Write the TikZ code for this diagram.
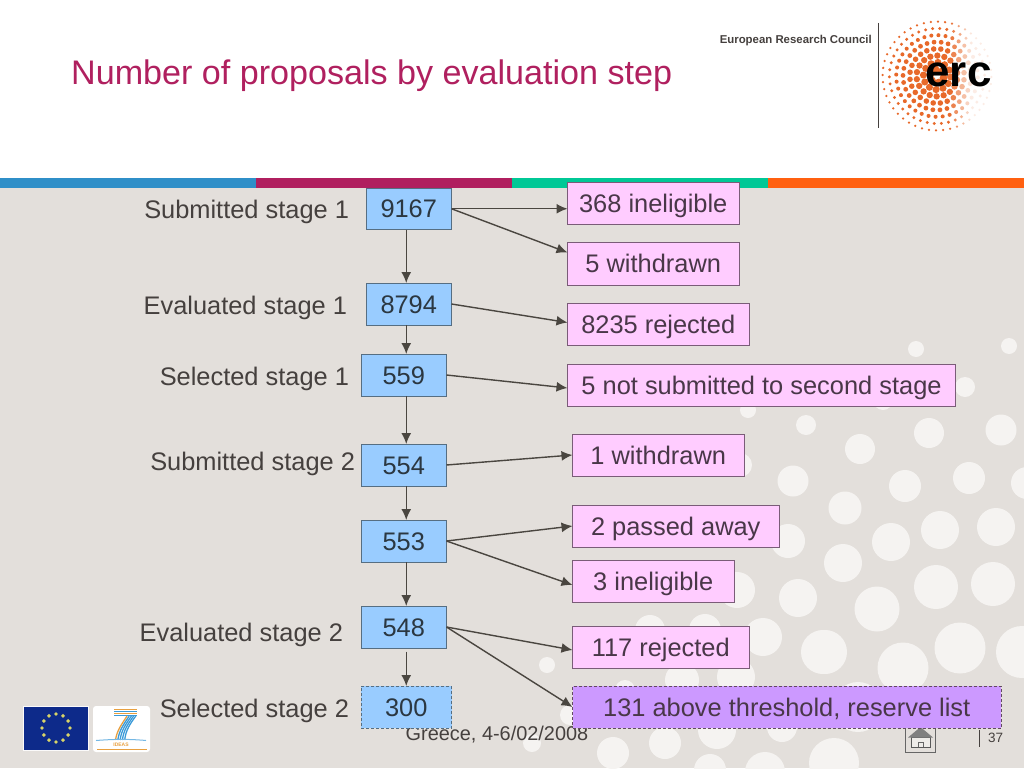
\documentclass[tikz,border=0pt]{standalone}
\usepackage{fontspec}
\setmainfont{Liberation Sans}
\usetikzlibrary{arrows.meta}
\definecolor{bgc}{HTML}{E3DFDB}
\definecolor{dotc}{HTML}{F5F3F1}
\definecolor{titlec}{HTML}{B0205F}
\definecolor{txtc}{HTML}{45403E}
\definecolor{linec}{HTML}{4A4640}
\definecolor{bluef}{HTML}{99CCFF}
\definecolor{blued}{HTML}{566E82}
\definecolor{pinkf}{HTML}{FFCCFF}
\definecolor{pinkd}{HTML}{7A5C78}
\definecolor{purpf}{HTML}{CC99FF}
\definecolor{ercor}{HTML}{E8692A}
\definecolor{barblue}{HTML}{2F8FC8}
\definecolor{barmag}{HTML}{B01F5F}
\definecolor{bargreen}{HTML}{00C896}
\definecolor{barorange}{HTML}{FF6010}
\definecolor{flagblue}{HTML}{0D2A8A}
\definecolor{flagstar}{HTML}{D8D468}
\definecolor{fpblue}{HTML}{3A9AD8}
\definecolor{fporange}{HTML}{E8A040}
\tikzset{
  x=1pt,y=-1pt,
  boxbase/.style={inner sep=0pt,outer sep=0pt,line width=1pt,text height=18pt,text depth=0pt,align=center,
     font=\fontsize{25.4}{30}\selectfont},
  bluebox/.style={boxbase,draw=blued,fill=bluef,text=blued!50!black},
  pinkbox/.style={boxbase,draw=pinkd,fill=pinkf,text=pinkd!60!black},
  bluedash/.style={bluebox,densely dashed},
  purpdash/.style={boxbase,draw=pinkd!80!black,fill=purpf,densely dashed,text=pinkd!60!black},
  stagelabel/.style={inner sep=0pt,outer sep=0pt,anchor=east,text=txtc,text height=18pt,text depth=0pt,
     font=\fontsize{25.4}{30}\selectfont},
  conn/.style={draw=linec,line width=1.4pt,-{Latex[length=11pt,width=10pt]}},
  bgdot/.style={fill=dotc,draw=none},
}
\newcommand{\boxat}[7]{%
  \pgfmathsetmacro{\cxx}{(#3+#5)/2}\pgfmathsetmacro{\cyy}{(#4+#6)/2}%
  \pgfmathsetmacro{\www}{#5-#3}\pgfmathsetmacro{\hhh}{#6-#4}%
  \node[#1,minimum width=\www pt,minimum height=\hhh pt] (#2) at (\cxx,\cyy) {#7};}
\begin{document}
\begin{tikzpicture}
\useasboundingbox (0,0) rectangle (1024,768);
\fill[white] (0,0) rectangle (1024,178);
\fill[bgc] (0,188) rectangle (1024,768);
% background dots
\foreach \dx/\dy/\dr in {
 916/349/8,1009/346/8,965/387/10,806/425/10,929/433/15,1001/430/15.5,860/449/15,793/481/15.5,
 905/486/16,969/478/16,1027/483/16,845/508/16.5,940/530/19,996/527/19,891/542/19,788/541/17,
 843/563/19,936/587/22,993/584/22,798/598/19,877/609/22.5,823/652/22,960/648/25.5,903/668/25.5,
 1022/652/26,858/707/25,834/763/25,748/410/8,740/465/12,737/590/18,763/637/19,825/652/22,
 650/630/15,705/630/16,682/680/17,736/677/19,625/690/10,665/743/16,613/753/16,717/730/19,
 782/727/15,570/715/10,547/665/8,532/743/9,710/770/16,765/772/20,883/400/10}
  \fill[bgdot] (\dx,\dy) circle[radius=\dr];
% colour bars
\fill[barblue] (0,178) rectangle (256,188);
\fill[barmag] (256,178) rectangle (512,188);
\fill[bargreen] (512,178) rectangle (768,188);
\fill[barorange] (768,178) rectangle (1024,188);
% title and header
\node[anchor=west,inner sep=0pt,text=titlec,font=\fontsize{34.1}{40}\selectfont] (title) at (71,76) {Number of proposals by evaluation step};
\node[anchor=east,inner sep=0pt,text=txtc,font=\bfseries\fontsize{11.4}{13}\selectfont] (erctag) at (872,41) {European Research Council};
\coordinate (ruletop) at (878.5,23);
\coordinate (rulebot) at (878.5,128);
\draw[line width=1pt,draw=txtc] (ruletop) -- (rulebot);
% erc halftone
\foreach \ring in {1,...,8}{
  \pgfmathtruncatemacro{\nn}{6*\ring}
  \pgfmathsetmacro{\radd}{6.8*\ring}
  \pgfmathsetmacro{\dotr}{max(1.1,4.3-0.38*\ring)}
  \foreach \k in {1,...,\nn}{
    \pgfmathsetmacro{\ang}{360/\nn*\k+17*\ring}
    \pgfmathsetmacro{\ddx}{\radd*cos(\ang)}
    \pgfmathsetmacro{\ddy}{\radd*sin(\ang)}
    \pgfmathsetmacro{\opa}{min(1,max(0.12,1-(\ddx-12)/26))}
    \fill[ercor,opacity=\opa] (937+\ddx,76+\ddy) circle[radius=\dotr];
  }
}
\node[inner sep=0pt,text=black,font=\bfseries\fontsize{44}{48}\selectfont] (erclogo) at (958.5,75) {erc};
% footer
\node[inner sep=0pt,text=txtc,font=\fontsize{19.9}{24}\selectfont] (footer) at (497,735) {Greece, 4-6/02/2008};
\node[anchor=west,inner sep=0pt,text=txtc,font=\fontsize{13.5}{16}\selectfont] (pageno) at (988,738) {37};
\coordinate (sepa) at (979,730);
\coordinate (sepb) at (979,747);
\draw[line width=1pt,draw=txtc] (sepa) -- (sepb);
% home icon
\draw[draw=gray!80!black,line width=0.8pt] (905,722) rectangle (935.5,752);
\draw[draw=gray!70!black,fill=bgc!60!white,line width=0.8pt] (911,737) rectangle (930,747);
\fill[gray] (908,737.5) -- (920.5,727) -- (933,737.5) -- cycle;
\draw[gray!80!black,line width=0.8pt] (918,747) |- (923,742.5) -- (923,747);
% EU flag
\fill[white!85!bgc] (23,706) rectangle (89,751);
\fill[flagblue] (24,707) rectangle (88,750);
\foreach \a in {0,30,...,330}
  \fill[flagstar] (56,728)+(\a:14) circle[radius=1.9];
% FP7 logo
\fill[white,rounded corners=3pt] (93,706) rectangle (150,752);
\foreach \yy/\c in {709.5/fporange,711.5/fpblue,713.5/fporange,715.5/fpblue}
  \draw[\c,line width=1.5pt] (114,\yy) -- (137,\yy);
\foreach \s/\c in {0/fporange,1/fpblue,2/fpblue,3/fpblue,4/fpblue}
  \draw[\c,line width=1.3pt] (127+2.2*\s,716) .. controls (122+2*\s,724) and (117+2.2*\s,730) .. (115.5+2.3*\s,740);
\draw[fpblue!70!white,line width=1pt] (96,740.5) .. controls (115,739) and (130,739) .. (146,740.5);
\draw[fporange,line width=0.7pt] (97,749) -- (147,749);
\node[inner sep=0pt,text=fporange,font=\bfseries\fontsize{5}{6}\selectfont] (ideas) at (121,745) {IDEAS};
% stage labels
\node[stagelabel] (l1) at (349,209) {Submitted stage 1};
\node[stagelabel] (l2) at (347,305) {Evaluated stage 1};
\node[stagelabel] (l3) at (349,376) {Selected stage 1};
\node[stagelabel] (l4) at (355,461) {Submitted stage 2};
\node[stagelabel] (l5) at (343,632) {Evaluated stage 2};
\node[stagelabel] (l6) at (349,708) {Selected stage 2};
% count boxes
\boxat{bluebox}{a}{366}{188}{451.5}{229.5}{9167}
\boxat{bluebox}{b}{366}{283}{451.5}{325}{8794}
\boxat{bluebox}{c}{361}{354}{446.5}{396}{559}
\boxat{bluebox}{d}{361}{444}{446.5}{486}{554}
\boxat{bluebox}{e}{361}{520}{446.5}{562}{553}
\boxat{bluebox}{f}{361}{606}{446.5}{648}{548}
\boxat{bluedash}{g}{361}{686}{451.5}{728}{300}
% result boxes
\boxat{pinkbox}{r1}{567.5}{182}{739}{224.5}{368 ineligible}
\boxat{pinkbox}{r2}{567.5}{242}{739}{285}{5 withdrawn}
\boxat{pinkbox}{r3}{567.5}{303}{749}{345}{8235 rejected}
\boxat{pinkbox}{r4}{567.5}{364}{955.5}{406}{5 not submitted to second stage}
\boxat{pinkbox}{r5}{572.5}{434}{744}{476}{1 withdrawn}
\boxat{pinkbox}{r6}{572.5}{505}{779}{547}{2 passed away}
\boxat{pinkbox}{r7}{572.5}{560}{734}{602}{3 ineligible}
\boxat{pinkbox}{r8}{572.5}{626}{749}{668}{117 rejected}
\boxat{purpdash}{r9}{572.5}{686}{1001}{728}{131 above threshold, reserve list}
% connectors
\draw[conn] ([xshift=-2.5pt]a.south) -- ([xshift=-2.5pt]b.north);
\draw[conn] ([xshift=-2.5pt]b.south) -- ([xshift=2.5pt]c.north);
\draw[conn] ([xshift=2.5pt]c.south) -- ([xshift=2.5pt]d.north);
\draw[conn] ([xshift=2.5pt]d.south) -- ([xshift=2.5pt]e.north);
\draw[conn] ([xshift=2.5pt]e.south) -- ([xshift=2.5pt]f.north);
\draw[conn] ([xshift=2.5pt,yshift=-3.5pt]f.south) -- (g.north);
\draw[conn] (a.east) -- (r1.west |- a.east);
\draw[conn] (a.east) -- ([yshift=11pt]r2.west);
\draw[conn] (b.east) -- ([yshift=1.5pt]r3.west);
\draw[conn] (c.east) -- ([yshift=-3pt]r4.west);
\draw[conn] (d.east) -- (r5.west);
\draw[conn] (e.east) -- (r6.west);
\draw[conn] (e.east) -- ([yshift=-4pt]r7.west);
\draw[conn] (f.east) -- ([yshift=-3pt]r8.west);
\draw[conn] (f.east) -- (r9.west);
\end{tikzpicture}
\end{document}
